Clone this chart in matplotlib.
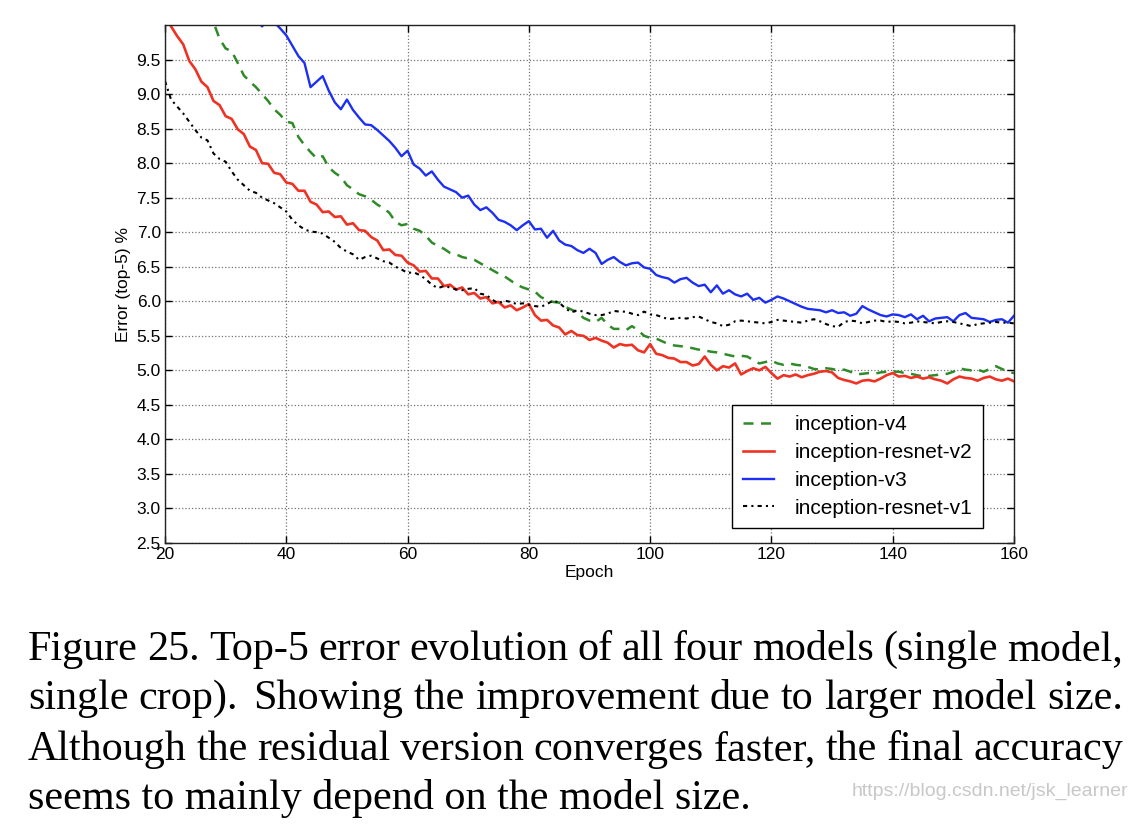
import matplotlib
matplotlib.use('Agg')
import matplotlib.pyplot as plt
import numpy as np

plt.rcParams['font.family'] = ['Liberation Sans', 'DejaVu Sans']

# top-5 error per epoch
v4_start = 27
err_v4 = [10.20, 10.04, 9.80, 9.66, 9.62, 9.45, 9.27, 9.18, 9.10, 9.00,
          8.90, 8.78, 8.70, 8.60, 8.58, 8.38, 8.26, 8.16, 8.07, 8.10,
          7.94, 7.86, 7.80, 7.68, 7.62, 7.55, 7.52, 7.47, 7.40, 7.35,
          7.28, 7.15, 7.10, 7.12, 7.05, 7.02, 6.95, 6.85, 6.80, 6.76,
          6.70, 6.68, 6.64, 6.62, 6.60, 6.55, 6.50, 6.45, 6.40, 6.36,
          6.30, 6.24, 6.20, 6.17, 6.14, 6.06, 6.02, 5.99, 5.98, 5.92,
          5.88, 5.84, 5.76, 5.72, 5.70, 5.76, 5.66, 5.60, 5.60, 5.58,
          5.64, 5.58, 5.50, 5.47, 5.46, 5.42, 5.38, 5.36, 5.35, 5.34,
          5.32, 5.30, 5.29, 5.27, 5.26, 5.24, 5.22, 5.20, 5.21, 5.20,
          5.15, 5.10, 5.12, 5.14, 5.10, 5.08, 5.10, 5.08, 5.07, 5.05,
          5.02, 5.01, 5.03, 5.02, 5.00, 5.01, 4.98, 4.94, 4.95, 4.96,
          4.95, 4.97, 4.98, 4.98, 4.98, 4.96, 4.95, 4.93, 4.91, 4.92,
          4.93, 4.94, 4.95, 4.98, 5.03, 5.01, 5.00, 5.01, 4.98, 5.02,
          5.06, 5.02, 4.98, 4.96]

rv2_start = 20
err_rv2 = [10.15, 9.98, 9.84, 9.72, 9.48, 9.36, 9.18, 9.10, 8.90, 8.84,
           8.68, 8.64, 8.49, 8.42, 8.24, 8.19, 8.00, 7.99, 7.86, 7.84,
           7.72, 7.70, 7.60, 7.60, 7.44, 7.40, 7.29, 7.30, 7.22, 7.23,
           7.11, 7.13, 7.03, 7.02, 6.93, 6.88, 6.74, 6.75, 6.67, 6.66,
           6.56, 6.52, 6.43, 6.44, 6.33, 6.33, 6.22, 6.24, 6.17, 6.20,
           6.10, 6.12, 6.04, 6.06, 5.97, 5.99, 5.91, 5.94, 5.87, 5.91,
           5.96, 5.80, 5.72, 5.73, 5.65, 5.62, 5.52, 5.57, 5.51, 5.50,
           5.44, 5.47, 5.43, 5.40, 5.33, 5.38, 5.36, 5.37, 5.29, 5.26,
           5.38, 5.24, 5.22, 5.18, 5.17, 5.12, 5.12, 5.07, 5.09, 5.20,
           5.08, 5.00, 5.06, 5.04, 5.10, 4.94, 4.99, 5.03, 5.00, 5.05,
           4.96, 4.88, 4.93, 4.91, 4.94, 4.90, 4.93, 4.95, 4.98, 4.99,
           4.97, 4.89, 4.86, 4.84, 4.81, 4.85, 4.86, 4.84, 4.88, 4.93,
           4.96, 4.91, 4.92, 4.89, 4.91, 4.88, 4.90, 4.87, 4.85, 4.81,
           4.87, 4.91, 4.89, 4.88, 4.85, 4.89, 4.91, 4.87, 4.85, 4.88,
           4.84]

v3_start = 35
err_v3 = [10.10, 9.98, 10.08, 10.04, 9.95, 9.85, 9.70, 9.55, 9.45, 9.10,
          9.18, 9.26, 9.05, 8.88, 8.78, 8.92, 8.77, 8.66, 8.56, 8.55,
          8.48, 8.40, 8.32, 8.22, 8.10, 8.18, 7.98, 7.92, 7.82, 7.88,
          7.76, 7.66, 7.62, 7.58, 7.50, 7.53, 7.40, 7.32, 7.36, 7.28,
          7.18, 7.15, 7.10, 7.03, 7.10, 7.16, 7.04, 7.05, 6.92, 7.02,
          6.88, 6.82, 6.80, 6.74, 6.70, 6.76, 6.70, 6.54, 6.60, 6.64,
          6.57, 6.52, 6.55, 6.56, 6.49, 6.47, 6.38, 6.35, 6.33, 6.27,
          6.32, 6.34, 6.27, 6.22, 6.24, 6.13, 6.23, 6.11, 6.16, 6.10,
          6.07, 6.11, 6.02, 6.05, 5.98, 6.02, 6.07, 6.04, 6.00, 5.96,
          5.92, 5.89, 5.88, 5.87, 5.84, 5.87, 5.83, 5.84, 5.79, 5.82,
          5.93, 5.88, 5.84, 5.80, 5.78, 5.81, 5.80, 5.77, 5.81, 5.74,
          5.79, 5.71, 5.75, 5.76, 5.77, 5.71, 5.80, 5.83, 5.76, 5.75,
          5.74, 5.70, 5.73, 5.74, 5.69, 5.79]

rv1_start = 20
err_rv1 = [9.19, 8.92, 8.82, 8.72, 8.60, 8.48, 8.37, 8.33, 8.14, 8.06,
           8.02, 7.88, 7.76, 7.68, 7.60, 7.57, 7.50, 7.46, 7.42, 7.36,
           7.30, 7.18, 7.10, 7.04, 7.01, 7.00, 6.98, 6.92, 6.86, 6.77,
           6.72, 6.68, 6.60, 6.64, 6.66, 6.62, 6.58, 6.56, 6.50, 6.46,
           6.41, 6.42, 6.38, 6.32, 6.24, 6.19, 6.22, 6.20, 6.17, 6.16,
           6.18, 6.19, 6.11, 6.09, 6.02, 5.97, 6.01, 5.99, 5.96, 5.97,
           5.95, 5.93, 5.92, 5.96, 6.01, 5.98, 5.90, 5.84, 5.87, 5.85,
           5.82, 5.80, 5.80, 5.82, 5.86, 5.85, 5.85, 5.82, 5.80, 5.85,
           5.81, 5.80, 5.77, 5.74, 5.75, 5.76, 5.75, 5.77, 5.78, 5.74,
           5.70, 5.68, 5.64, 5.66, 5.71, 5.72, 5.71, 5.70, 5.69, 5.68,
           5.70, 5.73, 5.72, 5.71, 5.70, 5.69, 5.72, 5.74, 5.71, 5.67,
           5.64, 5.63, 5.70, 5.72, 5.71, 5.68, 5.70, 5.72, 5.72, 5.70,
           5.71, 5.70, 5.68, 5.69, 5.71, 5.70, 5.69, 5.68, 5.70, 5.71,
           5.70, 5.68, 5.66, 5.64, 5.67, 5.68, 5.69, 5.70, 5.69, 5.69,
           5.68]

xticks = [20, 40, 60, 80, 100, 120, 140, 160]
yticks = [2.5, 3.0, 3.5, 4.0, 4.5, 5.0, 5.5, 6.0, 6.5, 7.0, 7.5, 8.0, 8.5, 9.0, 9.5]

caption = [
    'Figure 25. Top-5 error evolution of all four models (single model,',
    'single crop).  Showing the improvement due to larger model size.',
    'Although the residual version converges faster, the final accuracy',
    'seems to mainly depend on the model size.',
]

W, H = 1138, 834
fig = plt.figure(figsize=(W / 100, H / 100), dpi=100)
ax = fig.add_axes([165 / W, 1 - 543 / H, (1014 - 165) / W, (543 - 25) / H])


def ep(start, vals):
    return np.arange(start, start + len(vals))


ax.plot(ep(v4_start, err_v4), err_v4, color='#2f8a28', lw=1.8,
        dashes=(4, 3), label='inception-v4')
ax.plot(ep(rv2_start, err_rv2), err_rv2, color='#ee3324', lw=1.9,
        label='inception-resnet-v2')
ax.plot(ep(v3_start, err_v3), err_v3, color='#1c2ff2', lw=1.7,
        label='inception-v3')
ax.plot(ep(rv1_start, err_rv1), err_rv1, color='black', lw=1.5,
        dashes=(2, 2, 1, 2), label='inception-resnet-v1')

ax.set_xlim(20, 160)
ax.set_ylim(2.5, 10.0)
ax.set_xticks(xticks)
ax.set_yticks(yticks)
ax.set_yticklabels(['%.1f' % t for t in yticks])
ax.tick_params(direction='in', top=True, right=True, length=5, width=1,
               labelsize=12.5, pad=3)
ax.grid(True, linestyle=':', color='0.45', linewidth=0.9)
for s in ax.spines.values():
    s.set_linewidth(1.0)
    s.set_color('#222222')

ax.set_xlabel('Epoch', fontsize=12.5, labelpad=2)
ax.set_ylabel('Error (top-5) %', fontsize=12.5, labelpad=4)

leg = ax.legend(loc='lower right', bbox_to_anchor=((983 - 165) / 849, (543 - 528) / 518),
                borderaxespad=0, fontsize=15, fancybox=False, framealpha=1,
                handlelength=1.5, handletextpad=1.0, labelspacing=0.42,
                borderpad=0.5)
leg.get_frame().set_edgecolor('black')
leg.get_frame().set_linewidth(1.0)

# caption, justified like the paper
fig.canvas.draw()
r = fig.canvas.get_renderer()
x0, x1 = 28, 1123
baselines = [660, 709, 760, 809]
for i, line in enumerate(caption):
    yb = 1 - baselines[i] / H
    if i == len(caption) - 1:
        fig.text(x0 / W, yb, line, family='Liberation Serif', fontsize=30.3,
                 va='baseline', ha='left')
        continue
    # a double space (sentence end) gets a wider gap
    parts = line.split(' ')
    words, weights = [], []
    for p in parts:
        if p == '':
            weights[-1] = 1.5
            continue
        words.append(p)
        weights.append(1.0)
    weights = weights[:-1]
    objs = [fig.text(0, yb, w, family='Liberation Serif', fontsize=30.3,
                     va='baseline', ha='left') for w in words]
    widths = [o.get_window_extent(r).width for o in objs]
    gap = (x1 - x0 - sum(widths)) / sum(weights)
    x = x0
    for j, o in enumerate(objs):
        o.set_x(x / W)
        if j < len(weights):
            x += widths[j] + gap * weights[j]

fig.text(1128 / W, 1 - 796 / H, 'https://blog.csdn.net/jsk_learner',
         fontsize=14, color='#c8c8c8', ha='right', va='baseline')

fig.savefig('out.png', dpi=100)
